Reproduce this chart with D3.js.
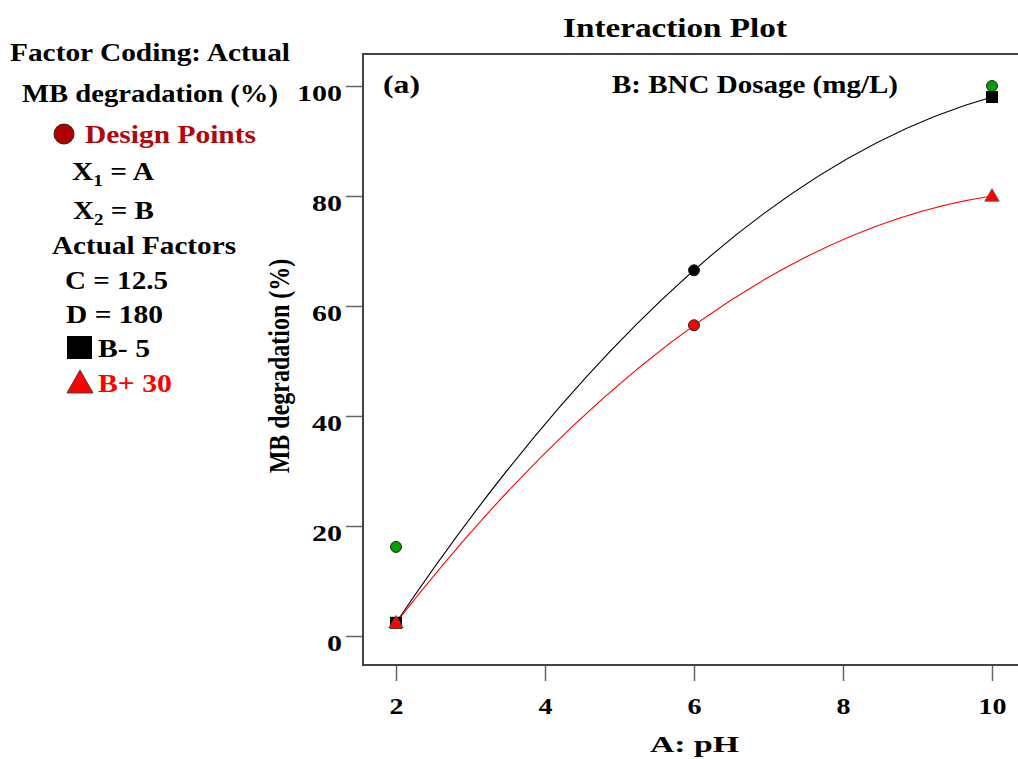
<!DOCTYPE html>
<html>
<head>
<meta charset="utf-8">
<script src="https://cdn.jsdelivr.net/npm/d3@7"></script>
<style>
  html, body { margin: 0; padding: 0; background: #fff; }
  svg { display: block; font-family: "Liberation Serif", "Times New Roman", serif; font-weight: bold; }
</style>
</head>
<body>
<svg id="chart" width="1018" height="759"></svg>
<script>
// pH levels on the x axis
const phLevels = [2, 6, 10];
// predicted MB degradation (%) for each BNC dosage level
const lowDoseFit = [2.4, 66.5, 98];   // B- 5 mg/L
const highDoseFit = [2.4, 56.5, 80];  // B+ 30 mg/L
// design points (observed runs)
const designPh = [2, 6, 6, 10];
const designValue = [16.2, 66.5, 56.5, 100];
const designColor = ["#00a000", "#000000", "#ff0000", "#00a000"];
const xTicks = [2, 4, 6, 8, 10];
const yTicks = [0, 20, 40, 60, 80, 100];

const svg = d3.select("#chart");

const x = d3.scaleLinear().domain([2, 10]).range([396, 992]);
const y = d3.scaleLinear().domain([0, 100]).range([636, 86]);

const frameLeft = 363, frameTop = 54, frameBottom = 665, frameRight = 1026;

// widen a text run to a given length (wide serif face)
function fit(sel, w) {
  return sel.attr("textLength", w).attr("lengthAdjust", "spacingAndGlyphs");
}

// title
fit(svg.append("text").attr("x", 563).attr("y", 37)
  .attr("font-size", 28).text("Interaction Plot"), 224);

// plot frame
svg.append("rect").attr("x", frameLeft).attr("y", frameTop)
  .attr("width", frameRight - frameLeft).attr("height", frameBottom - frameTop)
  .attr("fill", "none").attr("stroke", "#444").attr("stroke-width", 2);

// axes
const yAxis = d3.axisLeft(y).tickValues(yTicks).tickSize(16).tickPadding(4);
const gy = svg.append("g").attr("transform", `translate(${frameLeft - 1},0)`).call(yAxis);
gy.select(".domain").remove();
gy.selectAll(".tick line").attr("stroke", "#666").attr("stroke-width", 1.5);
gy.selectAll(".tick text").attr("font-size", 24).attr("font-family", "Liberation Serif")
  .attr("font-weight", "bold").attr("fill", "#000").attr("dy", "0.6em")
  .each(function (d) { fit(d3.select(this), 15 * String(d).length); });

const xAxis = d3.axisBottom(x).tickValues(xTicks).tickSize(15).tickPadding(16);
const gx = svg.append("g").attr("transform", `translate(0,${frameBottom + 1})`).call(xAxis);
gx.select(".domain").remove();
gx.selectAll(".tick line").attr("stroke", "#666").attr("stroke-width", 1.5);
gx.selectAll(".tick text").attr("font-size", 24).attr("font-family", "Liberation Serif")
  .attr("font-weight", "bold").attr("fill", "#000")
  .each(function (d) { fit(d3.select(this), 14 * String(d).length); });

// axis titles
fit(svg.append("text").attr("x", 650).attr("y", 752)
  .attr("font-size", 24).text("A: pH"), 89);
svg.append("text").attr("transform", "translate(289,366) scale(1.2,1) rotate(-90)")
  .attr("text-anchor", "middle").attr("font-size", 24).text("MB degradation (%)");

// panel annotations
fit(svg.append("text").attr("x", 383).attr("y", 93).attr("font-size", 25).text("(a)"), 37);
fit(svg.append("text").attr("x", 612).attr("y", 93)
  .attr("font-size", 25).text("B: BNC Dosage (mg/L)"), 286);

// quadratic model curves through three equally spaced levels
function quadPath(vals) {
  const p = d3.path();
  const x0 = x(phLevels[0]), x1 = x(phLevels[1]), x2 = x(phLevels[2]);
  const y0 = y(vals[0]), y1 = y(vals[1]), y2 = y(vals[2]);
  p.moveTo(x0, y0);
  p.quadraticCurveTo(2 * x1 - (x0 + x2) / 2, 2 * y1 - (y0 + y2) / 2, x2, y2);
  return p.toString();
}
svg.append("path").attr("d", quadPath(lowDoseFit)).attr("fill", "none")
  .attr("stroke", "#000").attr("stroke-width", 1.1);
svg.append("path").attr("d", quadPath(highDoseFit)).attr("fill", "none")
  .attr("stroke", "#ff0000").attr("stroke-width", 1.1);

// design points
svg.selectAll("circle.design").data(designPh).join("circle")
  .attr("class", "design")
  .attr("cx", d => x(d)).attr("cy", (d, i) => y(designValue[i])).attr("r", 5.5)
  .attr("fill", (d, i) => designColor[i]).attr("stroke", "#222").attr("stroke-width", 1);

// end markers for each dosage level
const endIdx = [0, 2];
svg.selectAll("rect.lowEnd").data(endIdx).join("rect").attr("class", "lowEnd")
  .attr("x", i => x(phLevels[i]) - 6).attr("y", i => y(lowDoseFit[i]) - 6)
  .attr("width", 12).attr("height", 12).attr("fill", "#000");
const tri = d3.symbol().type(d3.symbolTriangle).size(90);
svg.selectAll("path.highEnd").data(endIdx).join("path").attr("class", "highEnd")
  .attr("d", tri)
  .attr("transform", i => `translate(${x(phLevels[i])},${y(highDoseFit[i]) + 1})`)
  .attr("fill", "#ff0000").attr("stroke", "#555").attr("stroke-width", 0.8);

// legend panel
const leg = svg.append("g").attr("font-size", 26);
fit(leg.append("text").attr("x", 10).attr("y", 61).text("Factor Coding: Actual"), 280);
fit(leg.append("text").attr("x", 22).attr("y", 102).text("MB degradation (%)"), 256);
leg.append("circle").attr("cx", 64).attr("cy", 134).attr("r", 10)
  .attr("fill", "#b00000").attr("stroke", "#222").attr("stroke-width", 1);
fit(leg.append("text").attr("x", 85).attr("y", 143).attr("fill", "#b3060a").text("Design Points"), 171);
const x1t = leg.append("text").attr("x", 72).attr("y", 180);
x1t.append("tspan").text("X");
x1t.append("tspan").attr("font-size", 17).attr("dy", 6).text("1");
x1t.append("tspan").attr("dy", -6).text(" = A");
fit(x1t, 82);
const x2t = leg.append("text").attr("x", 73).attr("y", 219);
x2t.append("tspan").text("X");
x2t.append("tspan").attr("font-size", 17).attr("dy", 6).text("2");
x2t.append("tspan").attr("dy", -6).text(" = B");
fit(x2t, 81);
fit(leg.append("text").attr("x", 52).attr("y", 254).text("Actual Factors"), 184);
fit(leg.append("text").attr("x", 65).attr("y", 289).text("C = 12.5"), 103);
fit(leg.append("text").attr("x", 66).attr("y", 323).text("D = 180"), 97);
leg.append("rect").attr("x", 67).attr("y", 336).attr("width", 25).attr("height", 23).attr("fill", "#000");
fit(leg.append("text").attr("x", 98).attr("y", 357).text("B- 5"), 52);
leg.append("path").attr("d", "M80,370 L93,393 L67,393 Z").attr("fill", "#ff0000")
  .attr("stroke", "#444").attr("stroke-width", 1);
fit(leg.append("text").attr("x", 98).attr("y", 392).attr("fill", "#ff0000").text("B+ 30"), 74);
</script>
</body>
</html>
